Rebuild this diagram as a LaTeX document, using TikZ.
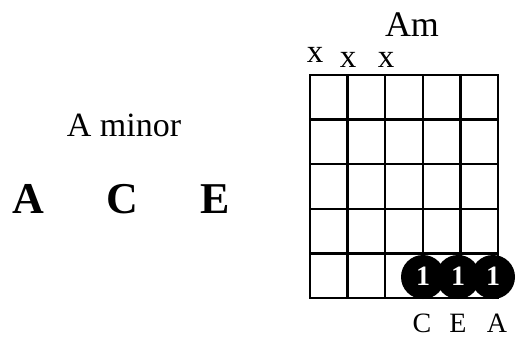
\documentclass[tikz,border=0pt]{standalone}
\usepackage{fontspec}
\setmainfont{Liberation Serif}
\begin{document}
\begin{tikzpicture}[x=1pt,y=-1pt,
  gridline/.style={line width=2.5pt,line cap=rect},
  fingerdot/.style={circle,fill=black,minimum size=44pt,inner sep=0pt,text=white,font=\fontsize{28}{28}\selectfont\bfseries},
  mutemark/.style={anchor=base,font=\fontsize{33}{33}\selectfont},
  notelabel/.style={anchor=base,font=\fontsize{28}{28}\selectfont},
  bignote/.style={anchor=base,font=\fontsize{44}{44}\selectfont\bfseries}]
\useasboundingbox (0,0) rectangle (516,337);
% grid
\foreach \i/\x in {0/310,1/347.6,2/385.2,3/422.8,4/460.4,5/498}
  \draw[gridline] (\x,75) -- (\x,298);
\foreach \j/\y in {0/75,1/119.6,2/164.2,3/208.8,4/253.4,5/298}
  \draw[gridline] (310,\y) -- (498,\y);
% title
\node[anchor=base,font=\fontsize{36}{36}\selectfont] (title) at (412,37) {Am};
% mute marks
\node[mutemark] (m1) at (315,63) {x};
\node[mutemark] (m2) at (348,67) {x};
\node[mutemark] (m3) at (386,67) {x};
% finger dots
\node[fingerdot] (d1) at (423,277) {};
\node[fingerdot] (d2) at (458,277) {};
\node[fingerdot] (d3) at (493,277) {};
\node[anchor=base,text=white,font=\fontsize{28}{28}\selectfont\bfseries] (f1) at (423,285) {1};
\node[anchor=base,text=white,font=\fontsize{28}{28}\selectfont\bfseries] (f2) at (458,285) {1};
\node[anchor=base,text=white,font=\fontsize{28}{28}\selectfont\bfseries] (f3) at (493,285) {1};
% string notes
\node[notelabel] (n1) at (422,332) {C};
\node[notelabel] (n2) at (458,332) {E};
\node[notelabel] (n3) at (497,332) {A};
% left text
\node[anchor=base,font=\fontsize{34}{34}\selectfont] (name) at (124,136) {A minor};
\node[bignote] (a) at (28,213) {A};
\node[bignote] (c) at (122,213) {C};
\node[bignote] (e) at (215,213) {E};
\end{tikzpicture}
\end{document}
